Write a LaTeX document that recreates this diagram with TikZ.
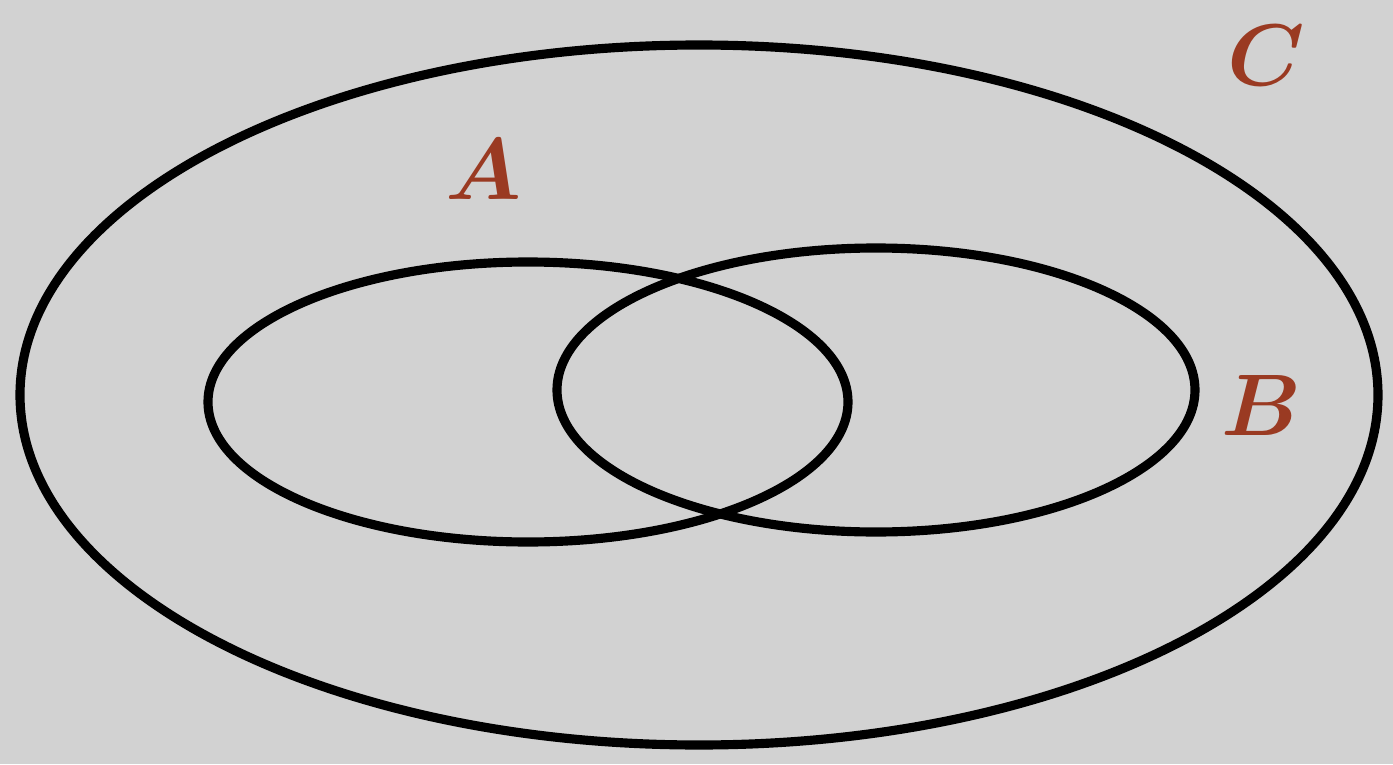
\documentclass[tikz,border=0pt]{standalone}
\usepackage{amsmath}
\usepackage{tikz}
\usepackage{xcolor}
\definecolor{paper}{HTML}{D2D2D2}
\definecolor{setlabel}{HTML}{9A3A22}

\tikzset{
  setline/.style={line width=2.6pt, draw=black},
  setname/.style={text=setlabel, font=\fontsize{37}{37}\selectfont, inner sep=0pt}
}

\begin{document}
\begin{tikzpicture}
  \fill[paper] (0,0) rectangle (13.93,7.64);
  \useasboundingbox (0,0) rectangle (13.93,7.64);
  % sets
  \draw[setline] (6.99,3.69) ellipse [x radius=6.79, y radius=3.50];
  \draw[setline] (5.28,3.62) ellipse [x radius=3.20, y radius=1.40];
  \draw[setline] (8.76,3.74) ellipse [x radius=3.19, y radius=1.42];
  % labels
  \node[setname] (labA) at (4.84,5.94) {$\boldsymbol{A}$};
  \node[setname] (labB) at (12.61,3.59) {$\boldsymbol{B}$};
  \node[setname] (labC) at (12.66,7.09) {$\boldsymbol{C}$};
\end{tikzpicture}
\end{document}
